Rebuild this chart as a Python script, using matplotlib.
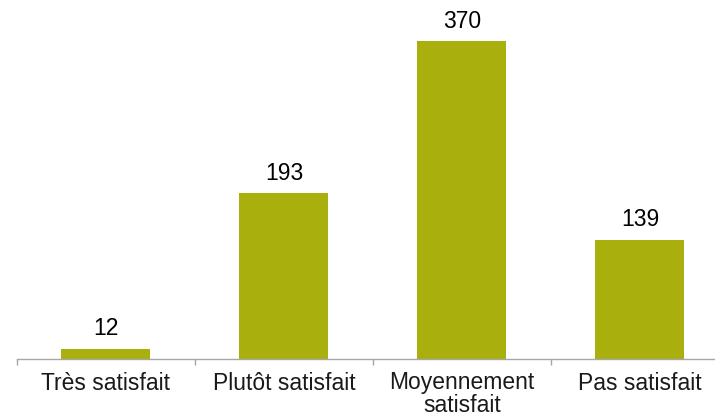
import matplotlib
matplotlib.use("Agg")
import matplotlib.pyplot as plt

categories = ["Très satisfait", "Plutôt satisfait", "Moyennement\nsatisfait", "Pas satisfait"]
values = [12, 193, 370, 139]

plt.rcParams['font.family'] = ['Liberation Sans', 'DejaVu Sans']

fig = plt.figure(figsize=(7.15, 4.16), dpi=100)
ax = fig.add_axes([17/715, 57/416, 712/715, 359/416])

x = list(range(len(categories)))
bars = ax.bar(x, values, width=0.5, color='#A9B00E')
for xi, v in zip(x, values):
    ax.annotate(str(v), (xi, v), xytext=(0, 6), textcoords='offset points',
                ha='center', va='bottom', fontsize=16.5, color='#000000',
                annotation_clip=False)

ax.set_xlim(-0.5, 3.5)
ax.set_ylim(0, 417.7)
ax.set_xticks(x)
ax.set_xticklabels(categories, fontsize=16.5, color='#1a1a1a', linespacing=0.95)
ax.set_xticks([-0.5, 0.5, 1.5, 2.5, 3.5], minor=True)
ax.tick_params(axis='x', which='major', length=0, pad=9)
ax.tick_params(axis='x', which='minor', length=4.5, color='#A6A6A6', width=1)
ax.set_yticks([])
for s in ['top', 'right', 'left']:
    ax.spines[s].set_visible(False)
ax.spines['bottom'].set_color('#A6A6A6')
ax.spines['bottom'].set_linewidth(1)

fig.savefig('out.png', dpi=100)
